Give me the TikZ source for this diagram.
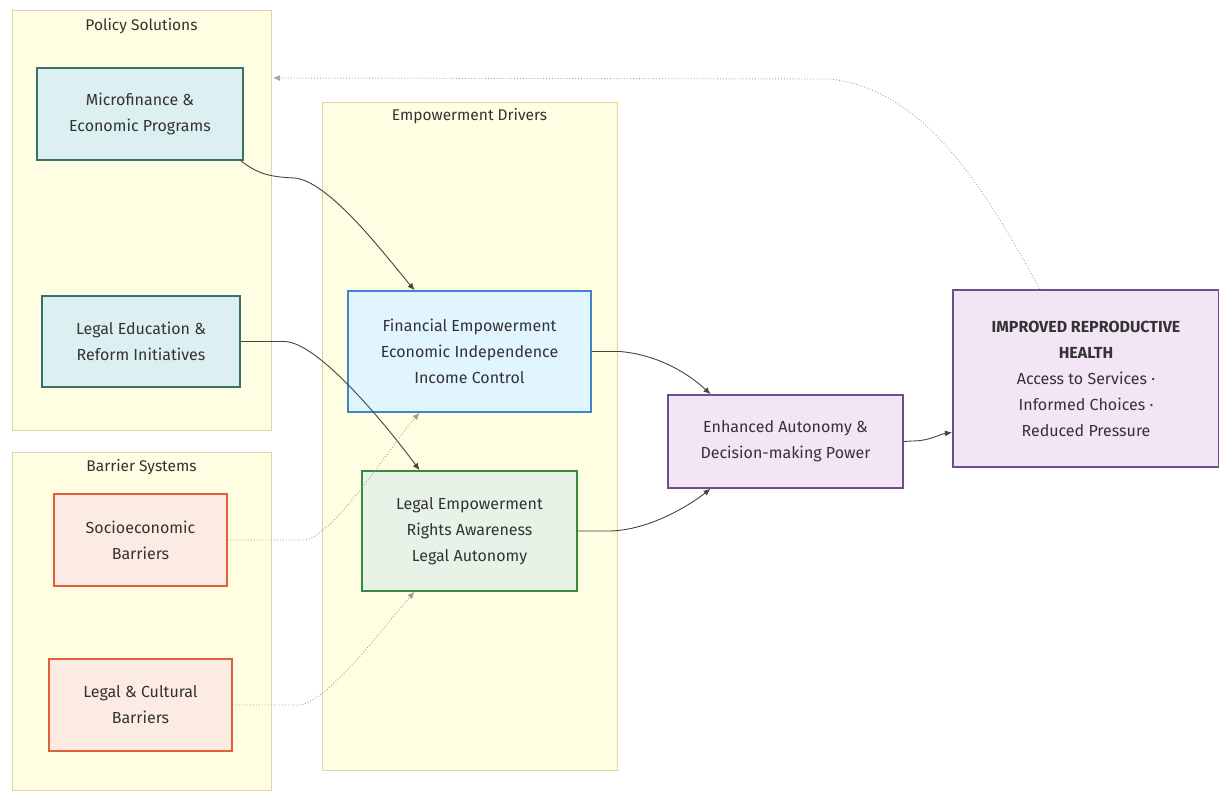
\documentclass[tikz,border=0pt]{standalone}
\usepackage{fontspec}
\setmainfont{Fira Sans}
\usetikzlibrary{arrows.meta,calc}
\definecolor{clfill}{HTML}{FFFDE2}
\definecolor{cldraw}{HTML}{DAD6A6}
\definecolor{txt}{HTML}{333333}
\definecolor{polfill}{HTML}{DDF0F1}
\definecolor{poldraw}{HTML}{3A6F6A}
\definecolor{barfill}{HTML}{FCEBE3}
\definecolor{bardraw}{HTML}{E0603A}
\definecolor{finfill}{HTML}{E1F5FE}
\definecolor{findraw}{HTML}{3F86C8}
\definecolor{legfill}{HTML}{E8F3E8}
\definecolor{legdraw}{HTML}{3A8A3E}
\definecolor{purfill}{HTML}{F3E5F5}
\definecolor{purdraw}{HTML}{6C4F8C}
\definecolor{edgec}{HTML}{444444}
\definecolor{dotc}{HTML}{A09E8A}
\tikzset{
  cluster/.style={draw=cldraw, fill=clfill, line width=1pt},
  cltitle/.style={text=txt, font=\fontsize{15.5}{17}\selectfont},
  box/.style={rectangle, line width=1.6pt, text=txt, align=center,
     font=\fontsize{16}{26}\selectfont, inner sep=0pt},
  pol/.style={box, fill=polfill, draw=poldraw},
  bar/.style={box, fill=barfill, draw=bardraw},
  fin/.style={box, fill=finfill, draw=findraw},
  leg/.style={box, fill=legfill, draw=legdraw},
  pur/.style={box, fill=purfill, draw=purdraw},
  edge/.style={draw=edgec, line width=0.9pt, -{Latex[length=7pt,width=6pt]}},
  dotedge/.style={draw=dotc, line width=0.9pt, dotted, -{Latex[length=7pt,width=6pt]}},
  backedge/.style={draw=gray!70, line width=0.9pt, dotted, -{Latex[length=7pt,width=6pt]}}
}
\begin{document}
\begin{tikzpicture}[x=1pt,y=-1pt]
\useasboundingbox (0,0) rectangle (1219,793);
\fill[white] (0,0) rectangle (1219,793);
% clusters
\draw[cluster] (12,10) rectangle (271,430);
\node[cltitle] (pst) at (141.5,26) {Policy Solutions};
\draw[cluster] (322,102) rectangle (617,770);
\node[cltitle] (edt) at (469.5,116) {Empowerment Drivers};
\draw[cluster] (12,452) rectangle (271,790);
\node[cltitle] (bst) at (141.5,467) {Barrier Systems};
\coordinate (psedge) at (273,78);
% nodes
\node[pol, minimum width=206pt, minimum height=92pt] (mf) at (140,114) {Microfinance \&\\Economic Programs};
\node[pol, minimum width=198pt, minimum height=91pt] (le) at (141,341.5) {Legal Education \&\\Reform Initiatives};
\node[bar, minimum width=173pt, minimum height=92pt] (se) at (140.5,540) {Socioeconomic\\Barriers};
\node[bar, minimum width=183pt, minimum height=92pt] (lc) at (140.5,705) {Legal \& Cultural\\Barriers};
\node[fin, minimum width=243pt, minimum height=121pt] (fe) at (469.5,351.5) {Financial Empowerment\\Economic Independence\\Income Control};
\node[leg, minimum width=215pt, minimum height=120pt] (lem) at (469.5,531) {Legal Empowerment\\Rights Awareness\\Legal Autonomy};
\node[pur, minimum width=235pt, minimum height=93pt] (ea) at (785.5,441.5) {Enhanced Autonomy \&\\Decision-making Power};
\node[pur, minimum width=266pt, minimum height=177pt, line width=2pt] (ir) at (1086,378.5) {\textbf{IMPROVED REPRODUCTIVE}\\\textbf{HEALTH}\\Access to Services ·\\Informed Choices ·\\Reduced Pressure};
% edges
\draw[edge] ($(mf.south east)+(-3,0)$) .. controls (258,174) and (270,177) .. (295,178) .. controls (330,182) and (385,255) .. ($(fe.north)+(-55,0)$);
\draw[edge] (le.east) -- (285,341.5) .. controls (320,343) and (390,430) .. ($(lem.north)+(-50,0)$);
\draw[dotedge] (se.east) -- (305,540) .. controls (335,535) and (395,440) .. ($(fe.south)+(-50,0)$);
\draw[dotedge] (lc.east) -- (300,705) .. controls (330,700) and (385,625) .. ($(lem.south)+(-55,0)$);
\draw[edge] (fe.east) -- (620,351.5) .. controls (660,355) and (690,375) .. ($(ea.north)+(-75,0)$);
\draw[edge] (lem.east) -- (610,531) .. controls (650,530) and (690,505) .. ($(ea.south)+(-75,0)$);
\draw[edge] (ea.east) -- (912,441) .. controls (930,441) and (940,434) .. ($(ir.west)+(0,54)$);
\draw[backedge] ($(ir.north)+(-46,0)$) .. controls (990,200) and (930,90) .. (830,79) -- (psedge);
\end{tikzpicture}
\end{document}
